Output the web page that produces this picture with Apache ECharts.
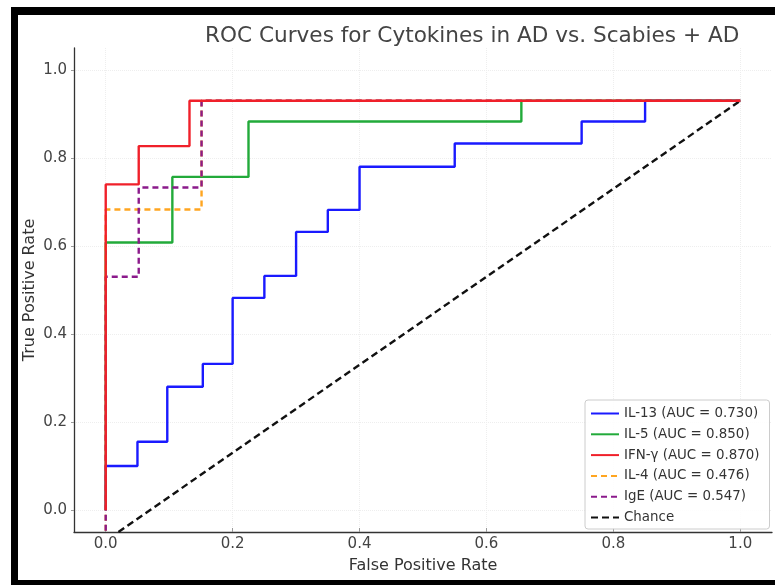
<!DOCTYPE html>
<html>
<head>
<meta charset="utf-8">
<script src="https://cdn.jsdelivr.net/npm/echarts@6/dist/echarts.min.js"></script>
<style>
  html, body { margin: 0; padding: 0; background: #fff; }
  #my-chart { width: 775px; height: 585px; }
</style>
</head>
<body>
<div id="my-chart"></div>
<script>
// ROC points, [fpr, tpr]
const il13 = [[0, 0], [0, 0.1], [0.05, 0.1], [0.05, 0.155], [0.097, 0.155], [0.097, 0.28], [0.153, 0.28], [0.153, 0.332], [0.2, 0.332], [0.2, 0.482], [0.25, 0.482], [0.25, 0.532], [0.3, 0.532], [0.3, 0.632], [0.35, 0.632], [0.35, 0.682], [0.4, 0.682], [0.4, 0.78], [0.55, 0.78], [0.55, 0.833], [0.75, 0.833], [0.75, 0.883], [0.85, 0.883], [0.85, 0.93], [1, 0.93]];
const il5 = [[0, 0], [0, 0.608], [0.105, 0.608], [0.105, 0.757], [0.225, 0.757], [0.225, 0.883], [0.655, 0.883], [0.655, 0.93], [1, 0.93]];
const ifng = [[0, 0], [0, 0.74], [0.052, 0.74], [0.052, 0.827], [0.132, 0.827], [0.132, 0.93], [1, 0.93]];
const il4 = [[0, -0.07], [0, 0.683], [0.151, 0.683], [0.151, 0.93], [1, 0.93]];
const ige = [[0, -0.07], [0, 0.53], [0.052, 0.53], [0.052, 0.733], [0.151, 0.733], [0.151, 0.93], [1, 0.93]];
const chance = [[0.02, -0.05], [1, 0.93]];

const names = ["IL-13 (AUC = 0.730)", "IL-5 (AUC = 0.850)", "IFN-γ (AUC = 0.870)", "IL-4 (AUC = 0.476)", "IgE (AUC = 0.547)", "Chance"];
const tickValues = [0, 0.2, 0.4, 0.6, 0.8, 1.0];

const myChart = echarts.init(document.getElementById("my-chart"));
const font = "DejaVu Sans";

function lineSeries(name, data, color, type, z) {
  return {
    name: name,
    type: "line",
    data: data,
    symbol: "none",
    z: z,
    animation: false,
    color: color,
    lineStyle: { color: color, width: 2.4, type: type },
  };
}

const option = {
  backgroundColor: "#fff",
  animation: false,
  title: {
    text: "ROC Curves for Cytokines in AD vs. Scabies + AD",
    left: 200,
    top: 20,
    textStyle: { fontFamily: font, fontSize: 21.6, fontWeight: "normal", color: "#444" },
  },
  grid: { left: 74, right: 3, top: 48, bottom: 53 },
  xAxis: {
    type: "value",
    min: -0.05,
    max: 1.05,
    name: "False Positive Rate",
    nameLocation: "middle",
    nameGap: 26,
    nameTextStyle: { fontFamily: font, fontSize: 16, color: "#333" },
    axisLine: { onZero: false, lineStyle: { color: "#333", width: 1.3 } },
    axisTick: { show: true, inside: true, length: 4, customValues: tickValues, lineStyle: { color: "#999" } },
    axisLabel: {
      customValues: tickValues,
      formatter: (v) => v.toFixed(1),
      fontFamily: font,
      fontSize: 15,
      color: "#444",
      margin: 5,
    },
    splitLine: { show: true, lineStyle: { color: "#eee", type: "dotted" } },
  },
  yAxis: {
    type: "value",
    min: -0.05,
    max: 1.05,
    name: "True Positive Rate",
    nameLocation: "middle",
    nameGap: 36,
    nameMoveOverlap: false,
    nameTextStyle: { fontFamily: font, fontSize: 16, color: "#333" },
    axisLine: { show: true, onZero: false, lineStyle: { color: "#333", width: 1.3 } },
    axisTick: { show: true, length: 3, customValues: tickValues, lineStyle: { color: "#999" } },
    axisLabel: {
      customValues: tickValues,
      formatter: (v) => v.toFixed(1),
      fontFamily: font,
      fontSize: 15,
      color: "#444",
      margin: 7,
    },
    splitLine: { show: true, lineStyle: { color: "#eee", type: "dotted" } },
  },
  legend: {
    orient: "vertical",
    left: 585,
    top: 400,
    itemWidth: 28,
    itemHeight: 12,
    itemGap: 7.8,
    padding: [7, 10, 5, 5],
    borderColor: "#ccc",
    borderWidth: 1,
    borderRadius: 3,
    backgroundColor: "rgba(255,255,255,0.85)",
    itemStyle: { opacity: 0 },
    textStyle: { fontFamily: font, fontSize: 13.4, color: "#333" },
    data: names,
  },
  graphic: [
    { type: "rect", shape: { x: 11, y: 7, width: 775, height: 8 }, style: { fill: "#000" }, z: 100 },
    { type: "rect", shape: { x: 11, y: 7, width: 7, height: 580 }, style: { fill: "#000" }, z: 100 },
    { type: "rect", shape: { x: 11, y: 580, width: 775, height: 6 }, style: { fill: "#000" }, z: 100 },
  ],
  series: [
    lineSeries(names[0], il13, "#1a1aff", "solid", 2),
    lineSeries(names[1], il5, "#22aa3a", "solid", 2),
    lineSeries(names[2], ifng, "#f0202a", "solid", 4),
    lineSeries(names[3], il4, "#ffa520", [6, 4], 3),
    lineSeries(names[4], ige, "#8b1a8b", [6, 4], 3),
    lineSeries(names[5], chance, "#111", [7, 4], 3),
  ],
};
myChart.setOption(option);
</script>
</body>
</html>
